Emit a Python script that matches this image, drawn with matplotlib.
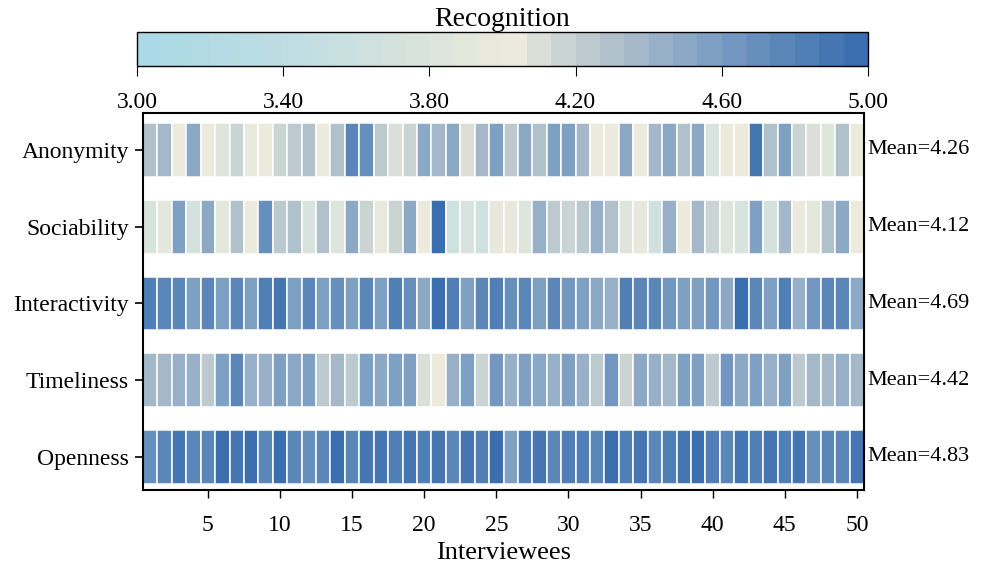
import numpy as np
import matplotlib
matplotlib.use("Agg")
import matplotlib.pyplot as plt
from matplotlib.colors import LinearSegmentedColormap, Normalize

plt.rcParams['font.family'] = ['Liberation Serif', 'DejaVu Serif']

# Datos (valoracion de cada entrevistado)
dimensions = ['Anonymity', 'Sociability', 'Interactivity', 'Timeliness', 'Openness']
means = [4.26, 4.12, 4.69, 4.42, 4.83]

anonymity = [4.30, 4.35, 4.05, 4.50, 4.05, 3.85, 4.15, 3.95, 4.05, 4.15,
             4.20, 4.30, 4.05, 4.30, 4.80, 4.70, 4.20, 4.10, 4.15, 4.50,
             4.35, 4.50, 4.10, 4.35, 4.60, 4.20, 4.50, 4.30, 4.55, 4.55,
             4.35, 4.05, 4.05, 4.50, 4.05, 4.35, 4.50, 4.30, 4.50, 3.80,
             4.05, 4.05, 4.90, 4.30, 4.60, 4.15, 4.10, 3.85, 4.30, 4.05]
sociability = [3.75, 3.90, 4.55, 3.70, 4.50, 3.90, 4.30, 4.05, 4.70, 4.20,
               4.30, 3.80, 4.30, 3.85, 4.50, 4.15, 3.95, 4.15, 4.50, 4.00,
               5.00, 3.65, 3.75, 3.65, 3.95, 3.95, 3.85, 4.45, 4.20, 4.15,
               4.20, 4.45, 4.30, 3.85, 3.95, 3.65, 4.45, 4.05, 4.35, 4.15,
               3.85, 3.80, 4.60, 3.70, 4.35, 4.05, 3.90, 4.30, 4.50, 4.05]
interactivity = [4.85, 4.75, 4.80, 4.55, 4.75, 4.60, 4.80, 4.60, 4.85, 4.90,
                 4.60, 4.75, 4.55, 4.70, 4.55, 4.75, 4.60, 4.85, 4.70, 4.50,
                 5.00, 4.85, 4.60, 4.75, 4.85, 4.70, 4.80, 4.55, 4.75, 4.65,
                 4.55, 4.50, 4.45, 4.85, 4.75, 4.75, 4.65, 4.55, 4.55, 4.65,
                 4.50, 4.95, 4.80, 4.55, 4.85, 4.40, 4.65, 4.75, 4.80, 4.50]
timeliness = [4.35, 4.35, 4.40, 4.45, 4.20, 4.55, 4.75, 4.45, 4.40, 4.60,
              4.50, 4.60, 4.20, 4.35, 4.20, 4.60, 4.50, 4.55, 4.55, 4.10,
              4.05, 4.40, 4.55, 4.15, 4.65, 4.40, 4.55, 4.50, 4.45, 4.55,
              4.45, 4.20, 4.65, 4.15, 4.50, 4.45, 4.35, 4.55, 4.60, 4.20,
              4.65, 4.50, 4.55, 4.45, 4.55, 4.20, 4.35, 4.35, 4.45, 4.35]
openness = [4.70, 4.80, 4.90, 4.75, 4.75, 4.95, 4.90, 4.95, 4.75, 4.95,
            4.80, 4.70, 4.75, 4.95, 4.75, 4.90, 4.90, 4.85, 4.90, 4.85,
            4.90, 4.75, 4.90, 4.85, 4.95, 4.60, 4.85, 4.90, 4.75, 4.85,
            4.85, 4.75, 4.95, 4.85, 4.90, 4.75, 4.85, 4.90, 5.00, 4.85,
            4.75, 4.90, 4.85, 4.90, 4.85, 4.90, 4.70, 4.80, 4.75, 4.90]

rows = [anonymity, sociability, interactivity, timeliness, openness]
interviewees = np.arange(1, 51)

# Mapa de color: celeste -> crema -> azul
cmap = LinearSegmentedColormap.from_list('recog', [
    (0.0, '#abd9e6'), (0.2, '#bedde3'), (0.4, '#dce4dc'), (0.515, '#edebdc'),
    (0.6, '#c3cfd1'), (0.7, '#a0b5c8'), (0.8, '#7c9ec3'), (0.9, '#5a86b8'),
    (1.0, '#3a6eaf')], N=30)
norm = Normalize(vmin=3.0, vmax=5.0)

fig = plt.figure(figsize=(9.91, 5.72), dpi=100)
ax = fig.add_axes([0.1443, 0.1434, 0.7276, 0.659])

for i, vals in enumerate(rows):
    ax.bar(interviewees, 0.7, bottom=i - 0.35, width=1.0,
           color=cmap(norm(np.array(vals))), edgecolor='white', linewidth=1.1)
    ax.annotate(f'Mean={means[i]:.2f}', xy=(1.004, i), xycoords=('axes fraction', 'data'),
                ha='left', va='center', fontsize=16)

ax.set_xlim(0.5, 50.5)
ax.set_ylim(4.43, -0.48)
ax.set_yticks(range(len(dimensions)))
ax.set_yticklabels(dimensions, fontsize=17)
ax.set_xticks(range(5, 51, 5))
ax.tick_params(axis='x', labelsize=17, length=6, width=1, pad=12)
ax.tick_params(axis='y', length=6, width=1.2, pad=4)
ax.set_xlabel('Interviewees', fontsize=19, labelpad=4)
for s in ax.spines.values():
    s.set_linewidth(1.5)

# Barra de color
cax = fig.add_axes([0.1382, 0.8846, 0.7376, 0.0594])
sm = plt.cm.ScalarMappable(norm=norm, cmap=cmap)
cb = fig.colorbar(sm, cax=cax, orientation='horizontal')
cb.set_ticks([3.0, 3.4, 3.8, 4.2, 4.6, 5.0])
cb.ax.xaxis.set_major_formatter(matplotlib.ticker.FormatStrFormatter('%.2f'))
cb.ax.tick_params(labelsize=17, length=7, pad=12)
cb.outline.set_linewidth(1.0)
cb.ax.set_title('Recognition', fontsize=20, pad=0)

fig.savefig('out.png', dpi=100)
